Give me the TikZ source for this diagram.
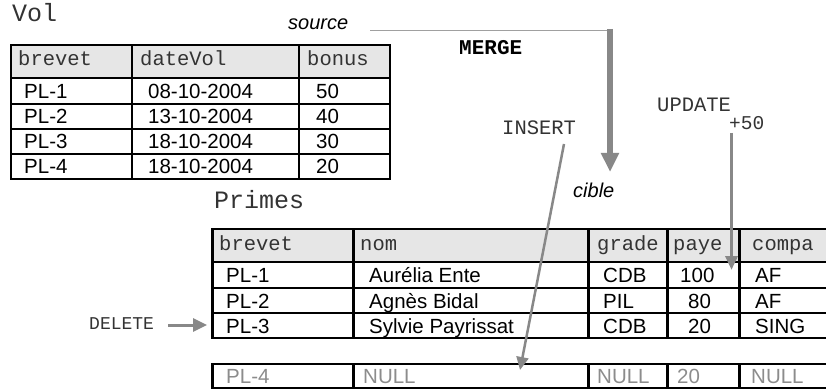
\documentclass[tikz,border=0pt]{standalone}
\usepackage{fontspec}
\setmainfont{Liberation Sans}
\newfontfamily\monof{Liberation Mono}
\usetikzlibrary{arrows.meta}
\definecolor{hdr}{HTML}{E6E6E6}
\definecolor{arr}{HTML}{888888}
\begin{document}
\begin{tikzpicture}[x=1pt,y=-1pt,
  hd/.style={anchor=base west, inner sep=0, font=\monof\fontsize{20.5}{24}\selectfont, text=black!80},
  cl/.style={anchor=base west, inner sep=0, font=\fontsize{20.5}{24}\selectfont},
  nl/.style={cl, text=black!45},
  lbl/.style={anchor=base west, inner sep=0, font=\monof\fontsize{20.5}{24}\selectfont, text=black!80},
  ttl/.style={anchor=base west, inner sep=0, font=\monof\fontsize{25}{30}\selectfont, text=black!80},
  itl/.style={anchor=base west, inner sep=0, font=\itshape\fontsize{20}{24}\selectfont},
  grid/.style={line width=2pt},
  colline/.style={line width=3pt},
  garrow/.style={draw=arr}
]
\useasboundingbox (0,0) rectangle (826,390);

% ---------- Vol table ----------
\node[ttl] (voltitle) at (12,22) {Vol};
\fill[hdr] (11,45) rectangle (390,78);
\foreach \y in {78,104,129,154} \draw[grid] (11,\y) -- (390,\y);
\foreach \x in {132,299} \draw[grid] (\x,45) -- (\x,179);
\draw[grid] (11,45) rectangle (390,179);

\node[hd] (vh1) at (18,66) {brevet};
\node[hd] (vh2) at (140,66) {dateVol};
\node[hd] (vh3) at (307,66) {bonus};

\node[cl] (v11) at (24,98.3) {PL-1};
\node[cl] (v12) at (148,98.3) {08-10-2004};
\node[cl] (v13) at (316,98.3) {50};
\node[cl] (v21) at (24,123.8) {PL-2};
\node[cl] (v22) at (148,123.8) {13-10-2004};
\node[cl] (v23) at (316,123.8) {40};
\node[cl] (v31) at (24,148.8) {PL-3};
\node[cl] (v32) at (148,148.8) {18-10-2004};
\node[cl] (v33) at (316,148.8) {30};
\node[cl] (v41) at (24,173.8) {PL-4};
\node[cl] (v42) at (148,173.8) {18-10-2004};
\node[cl] (v43) at (316,173.8) {20};

% ---------- Primes table ----------
\node[ttl] (primestitle) at (214,208) {Primes};
\fill[hdr] (212,229) rectangle (826,262);
\foreach \y in {229,262,288,313,338,364,388} \draw[grid] (212,\y) -- (826,\y);
\foreach \x in {212,353,588,667,739} {
  \draw[colline] (\x,228) -- (\x,339);
  \draw[colline] (\x,363) -- (\x,389);
}

\node[hd] (ph1) at (219,250) {brevet};
\node[hd] (ph2) at (360,250) {nom};
\node[hd] (ph3) at (597,250) {grade};
\node[hd] (ph4) at (673,250) {paye};
\node[hd] (ph5) at (752,250) {compa};

\node[cl] (p11) at (226,282) {PL-1};
\node[cl] (p12) at (369,282) {Aurélia Ente};
\node[cl] (p13) at (603,282) {CDB};
\node[cl] (p14) at (680,282) {100};
\node[cl] (p15) at (755,282) {AF};

\node[cl] (p21) at (226,308) {PL-2};
\node[cl] (p22) at (369,308) {Agnès Bidal};
\node[cl] (p23) at (603,308) {PIL};
\node[cl] (p24) at (688,308) {80};
\node[cl] (p25) at (755,308) {AF};

\node[cl] (p31) at (226,333) {PL-3};
\node[cl] (p32) at (369,333) {Sylvie Payrissat};
\node[cl] (p33) at (603,333) {CDB};
\node[cl] (p34) at (688,333) {20};
\node[cl] (p35) at (755,333) {SING};

\node[nl] (p41) at (226,383) {PL-4};
\node[nl] (p42) at (363,383) {NULL};
\node[nl] (p43) at (597,383) {NULL};
\node[nl] (p44) at (677,383) {20};
\node[nl] (p45) at (751,383) {NULL};

% ---------- labels ----------
\node[itl] (source) at (288,30) {source};
\node[itl] (cible) at (573,197) {cible};
\node[anchor=base west, inner sep=0, font=\monof\bfseries\fontsize{21}{24}\selectfont] (merge) at (459,55) {MERGE};
\node[lbl] (insert) at (502,135) {INSERT};
\node[lbl] (update) at (657,112) {UPDATE};
\node[anchor=base west, inner sep=0, font=\monof\fontsize{19.5}{24}\selectfont, text=black!80] (plus) at (729,130) {+50};
\node[anchor=base west, inner sep=0, font=\monof\fontsize{18}{22}\selectfont, text=black!80] (delete) at (89,329) {DELETE};

% ---------- arrows ----------
\coordinate (mStart) at (370,31);
\coordinate (mCorner) at (610,31);
\coordinate (mTop) at (610,29);
\coordinate (mTip) at (610,172);
\draw[draw=arr!80, line width=1pt] (mStart) -- (mCorner);
\draw[garrow, line width=6pt, -{Triangle[width=17pt,length=19pt]}] (mTop) -- (mTip);

\coordinate (insS) at (564,144);
\coordinate (insE) at (520,370);
\draw[garrow, line width=2.5pt, -{Triangle[width=12pt,length=13pt]}] (insS) -- (insE);

\coordinate (updS) at (731.5,133);
\coordinate (updE) at (731.5,270);
\draw[garrow, line width=3.5pt, -{Triangle[width=12pt,length=14pt]}] (updS) -- (updE);

\coordinate (delS) at (168,325);
\coordinate (delE) at (207,325);
\draw[garrow, line width=3pt, -{Triangle[width=13pt,length=14pt]}] (delS) -- (delE);
\end{tikzpicture}
\end{document}
